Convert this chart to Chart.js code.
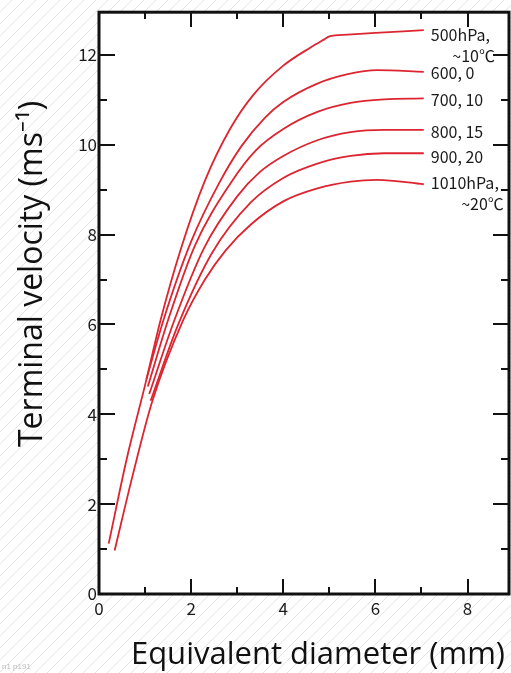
<!DOCTYPE html>
<html>
<head>
<meta charset="utf-8">
<script src="https://cdn.jsdelivr.net/npm/chart.js@4/dist/chart.umd.min.js"></script>
<style>
  html, body { margin: 0; padding: 0; background: #fff; }
  #wrap { position: relative; width: 511px; height: 673px; }
  #wrap canvas { position: absolute; left: 0; top: 0; }
  .tk { position: absolute; background: #111; }
</style>
</head>
<body>
<div id="wrap"><canvas id="chart" width="511" height="673"></canvas></div>
<script>
// 곡선 데이터 (직경 mm, 종단속도 m/s)
const d500 = [0.21, 0.6, 1.0, 1.34, 1.78, 2.3, 2.85, 3.35, 4.0, 4.6, 4.88, 5.0, 5.4, 6.0, 7.05];
const v500 = [1.12, 3.0, 4.65, 6.11, 7.69, 9.2, 10.36, 11.11, 11.76, 12.17, 12.34, 12.41, 12.45, 12.49, 12.55];
const d600 = [1.03, 1.4, 1.99, 2.61, 3.1, 3.6, 4.0, 4.74, 5.4, 6.04, 7.05];
const v600 = [4.78, 6.1, 7.82, 9.15, 9.98, 10.6, 10.95, 11.36, 11.57, 11.66, 11.62];
const d700 = [1.06, 1.5, 2.08, 2.86, 3.4, 4.0, 4.74, 5.46, 6.19, 7.05];
const v700 = [4.62, 6.1, 7.75, 9.15, 9.87, 10.35, 10.73, 10.93, 11.01, 11.03];
const d800 = [1.09, 1.62, 2.28, 3.0, 3.5, 4.0, 4.74, 5.46, 6.19, 7.05];
const v800 = [4.45, 6.05, 7.7, 8.85, 9.4, 9.75, 10.1, 10.28, 10.33, 10.33];
const d900 = [1.12, 1.72, 2.46, 3.3, 4.0, 4.74, 5.46, 6.19, 7.05];
const v900 = [4.3, 6.0, 7.6, 8.72, 9.26, 9.58, 9.75, 9.81, 9.81];
const d1010 = [0.34, 0.74, 1.16, 1.83, 2.3, 2.75, 3.29, 4.02, 4.74, 5.46, 6.04, 7.05];
const v1010 = [0.97, 2.68, 4.3, 6.1, 7.0, 7.65, 8.22, 8.75, 9.03, 9.18, 9.22, 9.12];

const curveLabels = [["500hPa,", "~10℃"], ["600, 0"], ["700, 10"], ["800, 15"], ["900, 20"], ["1010hPa,", "~20℃"]];
const xTickLabels = ["0", "2", "4", "6", "8"];
const yTickLabels = ["0", "2", "4", "6", "8", "10", "12"];
const xMarks = [1, 2, 3, 4, 5, 6, 7, 8];
const yMarks = [1, 2, 3, 4, 5, 6, 7, 8, 9, 10, 11, 12];

const FONT = '"Noto Sans CJK KR", "Noto Sans", sans-serif';
const TITLE_FONT = '"Open Sans", "Noto Sans", sans-serif';
const RED = "#dc2530";
let drawCount = 0;

function pts(xs, ys) {
    return xs.map((x, i) => ({ x: x, y: ys[i] }));
}

const series = [pts(d500, v500), pts(d600, v600), pts(d700, v700), pts(d800, v800), pts(d900, v900), pts(d1010, v1010)];

// 안쪽 눈금 위치 (짝수는 길게)
function tickRects(chart) {
    const a = chart.chartArea;
    const xs = chart.scales.x;
    const ys = chart.scales.y;
    const out = [];
    xMarks.forEach((v) => {
        const px = Math.round(xs.getPixelForValue(v));
        const len = v % 2 === 0 ? 15 : 7;
        out.push([px - 1, Math.round(a.bottom) - len, 2, len]);
        out.push([px - 1, Math.round(a.top), 2, len]);
    });
    yMarks.forEach((v) => {
        const py = Math.round(ys.getPixelForValue(v));
        const len = v % 2 === 0 ? 16 : 8;
        out.push([Math.round(a.left), py - 1, len, 2]);
        out.push([Math.round(a.right) - len, py - 1, len, 2]);
    });
    return out;
}

// 플롯 영역 바깥에만 빗금
const hatchPlugin = {
    id: "hatchBg",
    beforeDraw(chart) {
        const c = chart.ctx;
        const a = chart.chartArea;
        const w = chart.width;
        const h = chart.height;
        c.save();
        c.beginPath();
        c.rect(0, 0, w, h);
        c.rect(a.left, a.top, a.right - a.left, a.bottom - a.top);
        c.clip("evenodd");
        c.strokeStyle = "#e3e3e3";
        c.lineWidth = 1;
        for (let s = -h; s < w + h; s += 12) {
            c.beginPath();
            c.moveTo(s, h);
            c.lineTo(s + h, 0);
            c.stroke();
        }
        c.restore();
    },
};

// 테두리, 눈금, 곡선 이름, 축 제목
const framePlugin = {
    id: "frameTexts",
    afterDraw(chart) {
        drawCount++;
        const c = chart.ctx;
        const a = chart.chartArea;
        const xs = chart.scales.x;
        const ys = chart.scales.y;
        c.save();
        c.fillStyle = "#111";
        tickRects(chart).forEach((r) => c.fillRect(r[0], r[1], r[2], r[3]));
        c.strokeStyle = "#111";
        c.lineWidth = 3;
        c.strokeRect(a.left, a.top, a.right - a.left, a.bottom - a.top);

        c.fillStyle = "#1a1a1a";
        c.font = "16px " + FONT;
        c.textBaseline = "middle";
        const yShift = [5, 1, 1, 2, 4, -1];
        series.forEach((data, i) => {
            const last = data[data.length - 1];
            const lx = xs.getPixelForValue(last.x) + 7;
            const ly = ys.getPixelForValue(last.y) + yShift[i];
            const lines = curveLabels[i];
            c.textAlign = "left";
            c.fillText(lines[0], lx, ly);
            if (lines[1]) {
                const w = c.measureText(lines[0]).width;
                c.textAlign = "right";
                c.fillText(lines[1], lx + w + 5, ly + 21);
            }
        });
        c.fillStyle = "#111";
        c.font = "31px " + TITLE_FONT;
        c.textAlign = "right";
        c.textBaseline = "alphabetic";
        c.fillText("Equivalent diameter (mm)", 505, 664);
        c.font = "32px " + TITLE_FONT;
        c.translate(42, 447);
        c.rotate(-Math.PI / 2);
        c.textAlign = "left";
        c.fillText("Terminal velocity (ms⁻¹)", 0, 0);
        c.restore();
    },
};

const chart = new Chart(document.getElementById("chart").getContext("2d"), {
    type: "scatter",
    data: {
        datasets: series.map((data, i) => ({
            label: curveLabels[i].join(" "),
            data: data,
            showLine: true,
            borderColor: RED,
            borderWidth: 1.8,
            pointRadius: 0,
            cubicInterpolationMode: "monotone",
        })),
    },
    options: {
        responsive: false,
        animation: false,
        layout: { padding: { top: 9, right: 2, left: 0, bottom: 0 } },
        scales: {
            x: {
                type: "linear",
                min: 0,
                max: 8.9,
                grid: { display: false, drawTicks: false },
                border: { display: false },
                afterFit: (s) => { s.height = 79; },
                afterBuildTicks: (s) => {
                    s.ticks = xTickLabels.map((t) => ({ value: Number(t) }));
                },
                ticks: {
                    padding: 4,
                    color: "#1a1a1a",
                    font: { family: FONT, size: 17 },
                    maxRotation: 0,
                },
            },
            y: {
                type: "linear",
                min: 0,
                max: 12.95,
                grid: { display: false, drawTicks: false },
                border: { display: false },
                afterFit: (s) => { s.width = 99; },
                afterBuildTicks: (s) => {
                    s.ticks = yTickLabels.map((t) => ({ value: Number(t) }));
                },
                ticks: {
                    padding: 2,
                    color: "#1a1a1a",
                    font: { family: FONT, size: 17 },
                },
            },
        },
        plugins: {
            legend: { display: false },
            tooltip: { enabled: false },
        },
    },
    plugins: [hatchPlugin, framePlugin],
});

// 같은 눈금을 HTML 요소로도 겹쳐 둔다
const wrap = document.getElementById("wrap");
tickRects(chart).forEach((r) => {
    const el = document.createElement("div");
    el.className = "tk";
    el.style.left = r[0] + "px";
    el.style.top = r[1] + "px";
    el.style.width = r[2] + "px";
    el.style.height = r[3] + "px";
    wrap.appendChild(el);
});
const note = document.createElement("div");
note.style.cssText = "position:absolute;left:2px;top:662px;font:8px sans-serif;color:#bbb";
note.textContent = "n" + drawCount + " p" + Math.round(chart.scales.x.getPixelForValue(2));
wrap.appendChild(note);
</script>
</body>
</html>
